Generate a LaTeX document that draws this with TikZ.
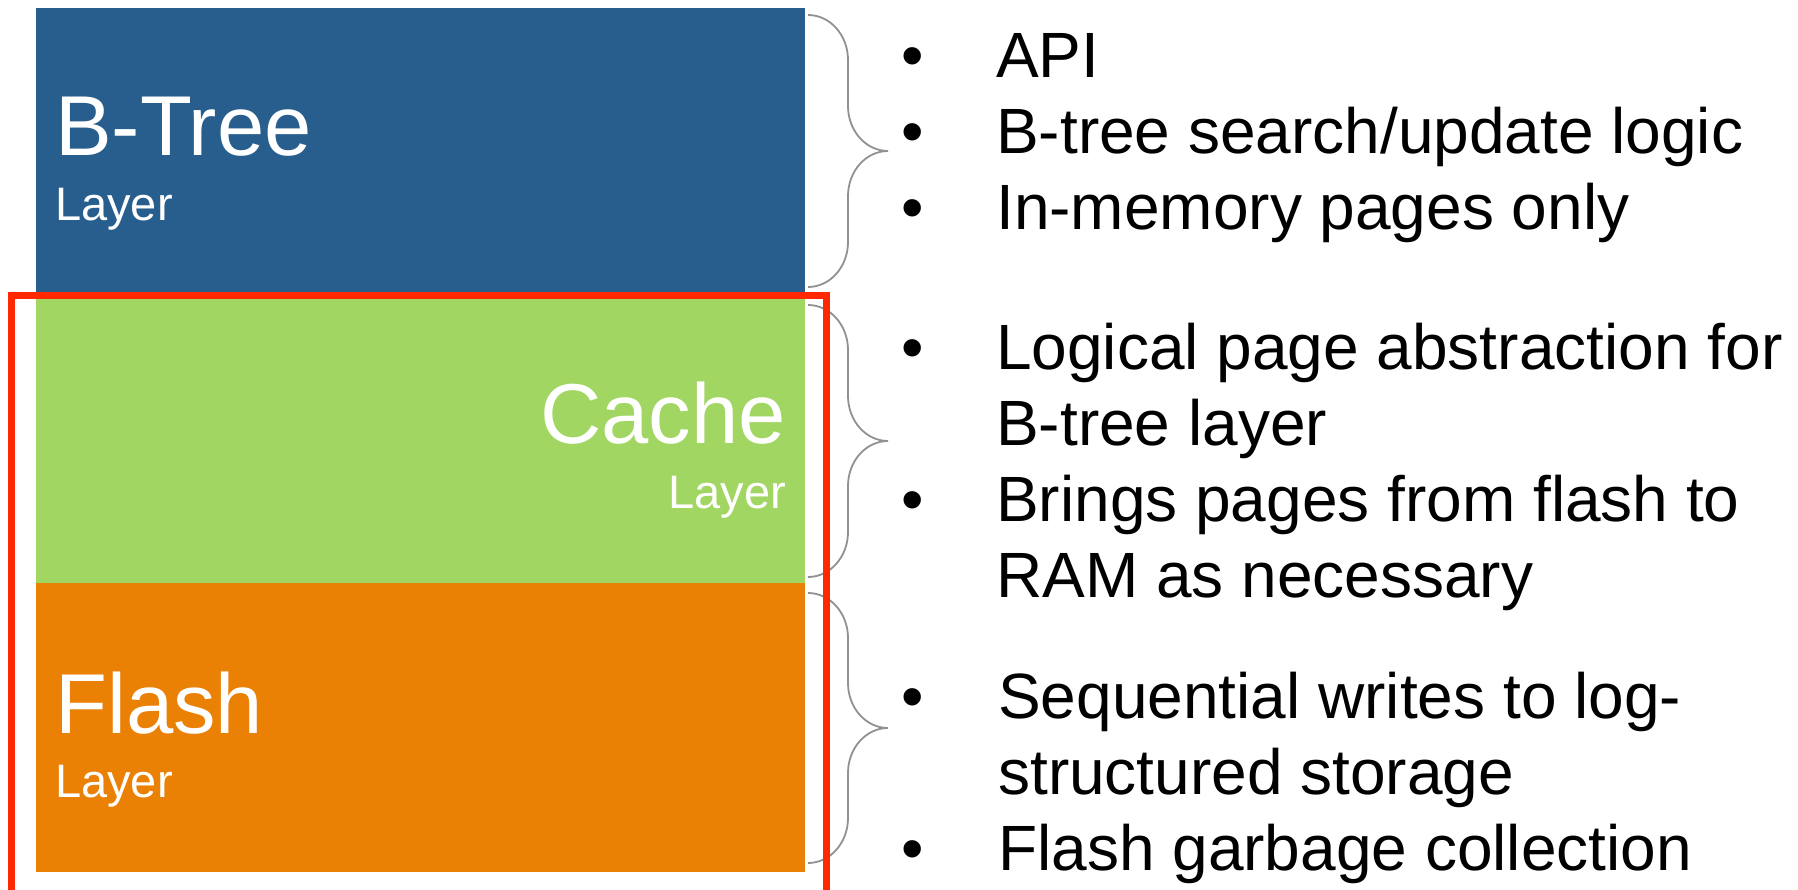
\documentclass[tikz,border=0pt]{standalone}
\usepackage{fontspec}
\setmainfont{Liberation Sans}

\definecolor{treeblue}{RGB}{40,94,142}
\definecolor{cachegreen}{RGB}{161,214,98}
\definecolor{flashorange}{RGB}{234,128,4}
\definecolor{scopered}{RGB}{255,40,0}
\definecolor{bracegray}{RGB}{145,145,145}

\begin{document}
\begin{tikzpicture}[x=1pt,y=-1pt,
  layerbox/.style={draw=none, inner sep=0pt, outer sep=0pt, anchor=north west},
  bigname/.style={text=white, inner sep=0pt, font=\fontsize{85}{85}\selectfont},
  smallname/.style={text=white, inner sep=0pt, font=\fontsize{47}{47}\selectfont},
  item/.style={inner sep=0pt, anchor=base west, font=\fontsize{64}{76}\selectfont},
  bracecurve/.style={draw=bracegray, line width=1.8pt},
  scopeframe/.style={draw=scopered, line width=7pt, line join=miter}]

\useasboundingbox (0,0) rectangle (1798,890);
\clip (0,0) rectangle (1798,890);

% the three stacked layers
\node[layerbox, fill=treeblue,    minimum width=769pt, minimum height=284pt] (btree) at (36,8) {};
\node[layerbox, fill=cachegreen,  minimum width=769pt, minimum height=291pt] (cache) at (36,292) {};
\node[layerbox, fill=flashorange, minimum width=769pt, minimum height=289pt] (flash) at (36,583) {};

% layer names
\node[bigname,   anchor=base west] (btreename)  at (55,156)  {B-Tree};
\node[smallname, anchor=base west] (btreelayer) at (55,221)  {Layer};
\node[bigname,   anchor=base east] (cachename)  at (786,443) {Cache};
\node[smallname, anchor=base east] (cachelayer) at (786,508) {Layer};
\node[bigname,   anchor=base west] (flashname)  at (55,733)  {Flash};
\node[smallname, anchor=base west] (flashlayer) at (55,797)  {Layer};

% right braces beside each layer
\draw[bracecurve] (808,15) .. controls (830,15) and (848,35) .. (848,60) -- (848,106)
  .. controls (848,131) and (866,151) .. (888,151)
  .. controls (866,151) and (848,171) .. (848,196) -- (848,242)
  .. controls (848,267) and (830,287) .. (808,287);
\draw[bracecurve] (808,305) .. controls (830,305) and (848,325) .. (848,350) -- (848,396)
  .. controls (848,421) and (866,441) .. (888,441)
  .. controls (866,441) and (848,461) .. (848,486) -- (848,532)
  .. controls (848,557) and (830,577) .. (808,577);
\draw[bracecurve] (808,593) .. controls (830,593) and (848,613) .. (848,638) -- (848,683)
  .. controls (848,708) and (866,728) .. (888,728)
  .. controls (866,728) and (848,748) .. (848,773) -- (848,818)
  .. controls (848,843) and (830,863) .. (808,863);

% frame around the cache and flash layers
\coordinate (frameBL) at (11.5,900);
\coordinate (frameTL) at (11.5,295.5);
\coordinate (frameTR) at (826.5,295.5);
\coordinate (frameBR) at (826.5,900);
\draw[scopeframe] (frameBL) -- (frameTL) -- (frameTR) -- (frameBR);

% B-tree layer duties
\node[item] (bul1) at (901,78)  {\textbullet};
\node[item] (txt1) at (996,78)  {API};
\node[item] (bul2) at (901,154) {\textbullet};
\node[item] (txt2) at (996,154) {B-tree search/update logic};
\node[item] (bul3) at (901,230) {\textbullet};
\node[item] (txt3) at (996,230) {In-memory pages only};

% cache layer duties
\node[item] (bul4) at (901,369) {\textbullet};
\node[item] (txt4) at (996,369) {Logical page abstraction for};
\node[item] (txt5) at (996,445) {B-tree layer};
\node[item] (bul6) at (901,521) {\textbullet};
\node[item] (txt6) at (996,521) {Brings pages from flash to};
\node[item] (txt7) at (996,597) {RAM as necessary};

% flash layer duties
\node[item] (bul8) at (901,718) {\textbullet};
\node[item] (txt8) at (998,718) {Sequential writes to log-};
\node[item] (txt9) at (998,794) {structured storage};
\node[item] (bul10) at (901,870) {\textbullet};
\node[item] (txt10) at (998,870) {Flash garbage collection};
\end{tikzpicture}
\end{document}
